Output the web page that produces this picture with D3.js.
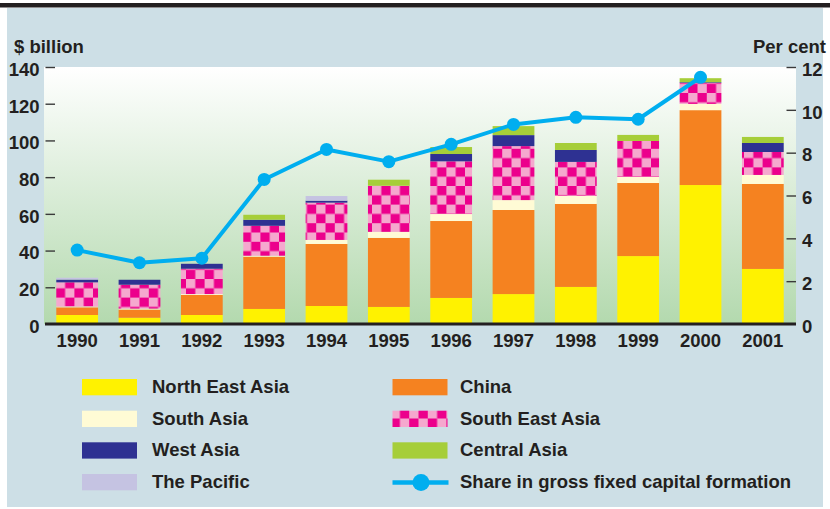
<!DOCTYPE html>
<html>
<head>
<meta charset="utf-8">
<script src="https://cdn.jsdelivr.net/npm/d3@7"></script>
<style>
  html, body { margin: 0; padding: 0; background: #ffffff; }
  svg { display: block; }
  text { font-family: "Liberation Sans", Arial, Helvetica, sans-serif; font-weight: bold; fill: #231f20; }
</style>
</head>
<body>
<svg id="chart" width="830" height="509"></svg>
<script>
// ---- data ----
const years = ["1990","1991","1992","1993","1994","1995","1996","1997","1998","1999","2000","2001"];
const northEastAsia = [4.9, 3.4, 4.9, 8.2, 9.8, 9.3, 14.2, 16.3, 20.2, 37.0, 75.7, 30.0];
const china         = [4.2, 4.5, 10.9, 28.5, 33.8, 37.6, 41.9, 45.8, 45.2, 39.8, 40.8, 46.3];
const southAsia     = [0.5, 0.5, 0.5, 0.5, 2.2, 3.3, 3.8, 5.4, 4.4, 3.3, 3.4, 4.9];
const southEastAsia = [13.1, 13.0, 13.8, 16.3, 20.3, 25.1, 28.7, 29.4, 18.5, 19.6, 11.4, 12.5];
const westAsia      = [1.5, 2.7, 2.7, 3.3, 1.1, 0, 4.0, 6.0, 6.5, 0, 0.4, 4.9];
const centralAsia   = [0, 0, 0, 2.7, 0, 3.3, 3.8, 4.9, 3.8, 3.3, 2.2, 3.3];
const pacific       = [1.0, 0, 0, 0, 2.5, 0, 0, 0, 0, 0, 0, 0];
const shareGFCF     = [3.45, 2.86, 3.07, 6.75, 8.15, 7.58, 8.39, 9.32, 9.65, 9.56, 11.52, null];
const leftTicks  = [0, 20, 40, 60, 80, 100, 120, 140];
const rightTicks = [0, 2, 4, 6, 8, 10, 12];

const seriesDefs = [
  { key: "North East Asia", values: northEastAsia, fill: "#fff200" },
  { key: "China",           values: china,         fill: "#f58220" },
  { key: "South Asia",      values: southAsia,     fill: "#fffbd5" },
  { key: "South East Asia", values: southEastAsia, fill: "url(#checks)" },
  { key: "West Asia",       values: westAsia,      fill: "#2e3192" },
  { key: "Central Asia",    values: centralAsia,   fill: "#a6ce39" },
  { key: "The Pacific",     values: pacific,       fill: "#c5c3e2" }
];

const FS = 18.5;
const svg = d3.select("#chart");
const defs = svg.append("defs");

// checker pattern
const pat = defs.append("pattern").attr("id", "checks")
  .attr("patternUnits", "userSpaceOnUse").attr("width", 18.6).attr("height", 18.6);
pat.append("rect").attr("width", 18.6).attr("height", 18.6).attr("fill", "#f5a8ce");
pat.append("rect").attr("x", 9.3).attr("y", 0).attr("width", 9.3).attr("height", 9.3).attr("fill", "#ec008c");
pat.append("rect").attr("x", 0).attr("y", 9.3).attr("width", 9.3).attr("height", 9.3).attr("fill", "#ec008c");

const grad = defs.append("linearGradient").attr("id", "plotbg")
  .attr("x1", 0).attr("y1", 0).attr("x2", 0).attr("y2", 1);
grad.append("stop").attr("offset", "0%").attr("stop-color", "#ffffff");
grad.append("stop").attr("offset", "100%").attr("stop-color", "#b3d9ae");

// page frame
svg.append("rect").attr("x", 0).attr("y", 3).attr("width", 830).attr("height", 4.5).attr("fill", "#231f20");
svg.append("rect").attr("x", 7).attr("y", 8).attr("width", 816).attr("height", 499).attr("fill", "#cddfe6");

// plot area
const plot = { left: 44, right: 796, top: 67, bottom: 324 };
svg.append("rect").attr("x", plot.left).attr("y", plot.top)
  .attr("width", plot.right - plot.left).attr("height", plot.bottom - plot.top)
  .attr("fill", "url(#plotbg)");

// scales
const x = d3.scaleBand().domain(years).range([46, 794]).paddingInner(0.33).paddingOuter(0.165);
const yL = d3.scaleLinear().domain([0, 140]).range([plot.bottom, plot.top]);
const yR = d3.scaleLinear().domain([0, 12]).range([plot.bottom, plot.top]);

// stack
const table = years.map((yr, i) => {
  const row = { year: yr };
  seriesDefs.forEach(s => row[s.key] = s.values[i]);
  return row;
});
const stack = d3.stack().keys(seriesDefs.map(s => s.key));
const stacked = stack(table);

const barG = svg.append("g");
stacked.forEach((layer, li) => {
  barG.append("g").attr("fill", seriesDefs[li].fill)
    .selectAll("rect").data(layer.filter(d => d[1] - d[0] > 0)).join("rect")
    .attr("x", d => x(d.data.year))
    .attr("width", x.bandwidth())
    .attr("y", d => yL(d[1]))
    .attr("height", d => yL(d[0]) - yL(d[1]));
});

// axes
const axL = svg.append("g").attr("transform", `translate(${45.5},0)`)
  .call(d3.axisLeft(yL).tickValues(leftTicks).tickSize(-9.5).tickPadding(6));
const axR = svg.append("g").attr("transform", `translate(${796},0)`)
  .call(d3.axisRight(yR).tickValues(rightTicks).tickSize(-9.5).tickPadding(6));
[axL, axR].forEach(ax => {
  ax.select(".domain").remove();
  ax.selectAll(".tick line").attr("stroke", "#3a3a3a").attr("stroke-width", 1.4);
  ax.selectAll(".tick text").attr("font-size", FS).attr("font-family", null).attr("dy", "0.45em").attr("fill", "#231f20");
});
axL.selectAll(".tick").filter(d => d === 0).select("line").remove();
axR.selectAll(".tick").filter(d => d === 0).select("line").remove();

const axB = svg.append("g").attr("transform", `translate(0,${plot.bottom})`)
  .call(d3.axisBottom(x).tickSize(0).tickPadding(10));
axB.select(".domain").remove();
axB.selectAll(".tick text").attr("font-size", FS).attr("font-family", null).attr("fill", "#231f20");

// base line
svg.append("line").attr("x1", 45).attr("x2", 796).attr("y1", plot.bottom).attr("y2", plot.bottom)
  .attr("stroke", "#231f20").attr("stroke-width", 3);

// axis titles
svg.append("text").attr("x", 14).attr("y", 53).attr("font-size", FS).text("$ billion");
svg.append("text").attr("x", 826).attr("y", 53).attr("font-size", FS).attr("text-anchor", "end").text("Per cent");

// share line
const linePts = years.map((yr, i) => ({ year: yr, v: shareGFCF[i] })).filter(d => d.v != null);
const line = d3.line().x(d => x(d.year) + x.bandwidth() / 2).y(d => yR(d.v));
svg.append("path").datum(linePts).attr("d", line)
  .attr("fill", "none").attr("stroke", "#00aeef").attr("stroke-width", 4).attr("stroke-linejoin", "round");
svg.append("g").selectAll("circle").data(linePts).join("circle")
  .attr("cx", d => x(d.year) + x.bandwidth() / 2).attr("cy", d => yR(d.v))
  .attr("r", 6.5).attr("fill", "#00aeef");

// legend
const legendItems = [
  { label: "North East Asia", fill: "#fff200", col: 0, row: 0 },
  { label: "South Asia", fill: "#fffbd5", col: 0, row: 1 },
  { label: "West Asia", fill: "#2e3192", col: 0, row: 2 },
  { label: "The Pacific", fill: "#c5c3e2", col: 0, row: 3 },
  { label: "China", fill: "#f58220", col: 1, row: 0 },
  { label: "South East Asia", fill: "url(#checks)", col: 1, row: 1 },
  { label: "Central Asia", fill: "#a6ce39", col: 1, row: 2 },
  { label: "Share in gross fixed capital formation", fill: null, col: 1, row: 3 }
];
const colX = [82, 392.5];
const textX = [152, 460];
const rowY = [379, 410.7, 442.3, 474];
const lg = svg.append("g");
legendItems.forEach(it => {
  const sx = colX[it.col], sy = rowY[it.row];
  if (it.fill) {
    lg.append("rect").attr("x", sx).attr("y", sy).attr("width", 55).attr("height", 16.3).attr("fill", it.fill);
  } else {
    lg.append("line").attr("x1", sx).attr("x2", sx + 56).attr("y1", sy + 8.5).attr("y2", sy + 8.5)
      .attr("stroke", "#00aeef").attr("stroke-width", 4.3);
    lg.append("circle").attr("cx", sx + 28.5).attr("cy", sy + 8.5).attr("r", 8.5).attr("fill", "#00aeef");
  }
  lg.append("text").attr("x", textX[it.col]).attr("y", sy + 14).attr("font-size", FS).text(it.label);
});
</script>
</body>
</html>
